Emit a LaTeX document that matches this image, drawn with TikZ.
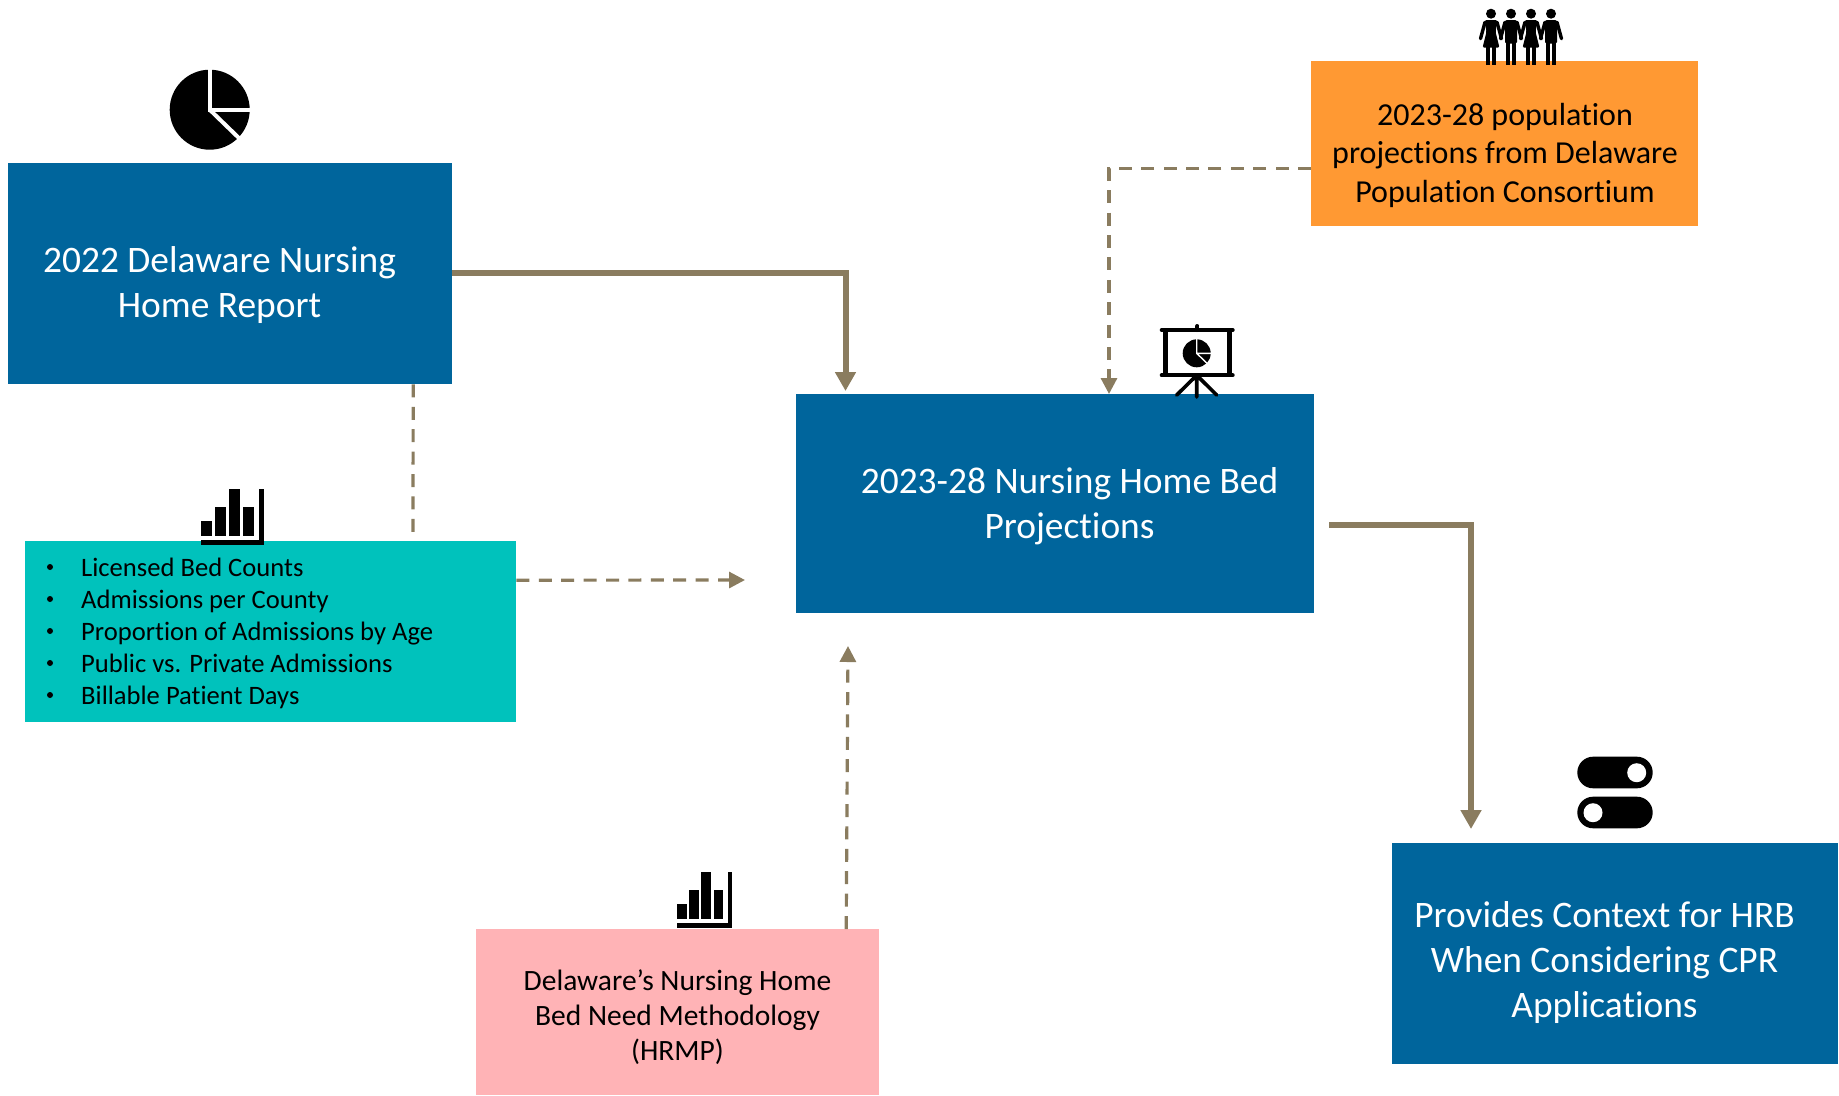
\documentclass[tikz,border=0pt]{standalone}
\usepackage{fontspec}
\setmainfont{Carlito}[Ligatures=NoCommon]
\usetikzlibrary{arrows.meta}
\definecolor{navy}{HTML}{00659C}
\definecolor{tealbox}{HTML}{00C2BC}
\definecolor{orangebox}{HTML}{FF9933}
\definecolor{pinkbox}{HTML}{FFB3B6}
\definecolor{conn}{HTML}{8A7C5F}
\tikzset{
  x=1pt,y=-1pt,
  panel/.style n args={3}{fill=#1,draw=none,inner sep=0pt,minimum width=#2,minimum height=#3,anchor=north west},
  big/.style={text=white,font=\fontsize{37.4}{45}\selectfont,align=center,inner sep=0pt},
  med/.style={text=black,font=\fontsize{32}{38.5}\selectfont,align=center,inner sep=0pt},
  small/.style={text=black,font=\fontsize{29.5}{35}\selectfont,align=center,inner sep=0pt},
  listy/.style={text=black,font=\fontsize{26.6}{32}\selectfont,anchor=base west,inner sep=0pt},
  solidarrow/.style={draw=conn,line width=6pt,-{Triangle[length=19pt,width=20pt]}},
  dashbase/.style={draw=conn,line width=3.2pt,dash pattern=on 13pt off 9.4pt},
  dasharrow/.style={dashbase,-{Triangle[length=16pt,width=16pt]}},
  pieicon/.pic={
    \fill (0,0) circle[radius=40];
    \draw[white,line width=4] (0,-44) -- (0,0) -- (44,0);
    \draw[white,line width=4] (0,0) -- (32,31);
  },
  barsicon/.pic={
    \fill (0,32) rectangle (11,47);
    \fill (14,18) rectangle (25,47);
    \fill (28,0) rectangle (39,47);
    \fill (42,18) rectangle (53,47);
    \fill (58,0) rectangle (63.3,56.3);
    \fill (0,51.3) rectangle (63.3,56.3);
  },
  womanicon/.pic={
    \fill (0,0) circle[radius=5];
    \fill[rounded corners=1.5] (-6.5,6.5) -- (6.5,6.5) -- (4.5,18) -- (8.5,34) -- (-8.5,34) -- (-4.5,18) -- cycle;
    \fill (-4.8,33) rectangle (-1.2,51);
    \fill (1.2,33) rectangle (4.8,51);
    \draw[line width=3.4,line cap=round] (-6,8.5) -- (-10.5,25) (6,8.5) -- (10.5,25);
  },
  manicon/.pic={
    \fill (0,0) circle[radius=5];
    \fill[rounded corners=1.5] (-6,6.5) rectangle (6,30);
    \fill (-5,28) rectangle (-1,51);
    \fill (1,28) rectangle (5,51);
    \draw[line width=3.4,line cap=round] (-6,8.5) -- (-10.5,25) (6,8.5) -- (10.5,25);
  },
  boardicon/.pic={
    \draw[line width=4,line cap=round] (-35,0) -- (36,0) (-35,45.3) -- (36,45.3) (0.7,-4) -- (0.7,0);
    \draw[line width=5] (-31.5,0) -- (-31.5,45.3) (33,0) -- (33,45.3);
    \draw[line width=3.6,line cap=round] (0,45.3) -- (0,67) (0,45.3) -- (-20,65) (0,45.3) -- (20,65);
    \fill (0,23.3) circle[radius=14];
    \draw[white,line width=1.4] (0,8) -- (0,23.3) -- (16,23.3) (0,23.3) -- (11.5,34.5);
  },
  toggleicon/.pic={
    \fill[rounded corners=15.8] (0,0) rectangle (75.4,31.6);
    \fill[rounded corners=15.8] (0,40) rectangle (75.4,71.6);
    \fill[white] (59.4,16) circle[radius=9.5];
    \fill[white] (15.7,56) circle[radius=9.5];
  },
}
\begin{document}
\begin{tikzpicture}
\useasboundingbox (0,0) rectangle (1839,1095);
% boxes
\node[panel={navy}{444pt}{221pt}] (report) at (8,163) {};
\node[panel={navy}{518pt}{219pt}] (centre) at (796,394) {};
\node[panel={orangebox}{387pt}{165pt}] (pop) at (1311,61) {};
\node[panel={tealbox}{491pt}{181pt}] (list) at (25,541) {};
\node[panel={pinkbox}{403pt}{166pt}] (need) at (476,929) {};
\node[panel={navy}{446pt}{221pt}] (hrb) at (1392,843) {};
% free ends of the connectors
\coordinate (centreT) at (845.5,391);
\coordinate (centreT2) at (1109,394);
\coordinate (centreL) at (745,580);
\coordinate (centreB) at (848,646);
\coordinate (centreR) at (1329,525);
\coordinate (listT) at (413,532);
\coordinate (hrbT) at (1471,829);
% connectors
\draw[solidarrow] ([yshift=1pt]report.east) -| (centreT);
\draw[solidarrow] (centreR) -| (hrbT);
\draw[dashbase] ([xshift=183pt]report.south) -- (listT);
\draw[dasharrow] ([yshift=51.5pt]list.east) -- (centreL);
\draw[dasharrow] ([yshift=-24.5pt]pop.west) -| (centreT2);
\draw[dasharrow] ([xshift=168.5pt]need.north) -- (centreB);
% text
\node[big] (reportt) at (219.5,285.5) {2022 Delaware Nursing\\Home Report};
\node[big] (centret) at (1069.5,506) {2023-28 Nursing Home Bed\\Projections};
\node[big] (hrbt) at (1604.5,963) {Provides Context for HRB\\When Considering CPR\\Applications};
\node[med] (popt) at (1505,155) {2023-28 population\\projections from Delaware\\Population Consortium};
\node[small] (needt) at (677.5,1017) {Delaware’s Nursing Home\\Bed Need Methodology\\(HRMP)};
\foreach \t/\y [count=\i] in {Licensed Bed Counts/568,Admissions per County/600,Proportion of Admissions by Age/632,Public vs. Private Admissions/664,Billable Patient Days/696}{
  \node[listy] (item\i) at (81,\y+8) {\t};
  \fill (50,\y-1) circle[radius=3];
}
% icons
\pic at (209.7,109.7) {pieicon};
\pic at (201,489) {barsicon};
\pic[xscale=0.874] at (677,872) {barsicon};
\pic at (1196.7,330) {boardicon};
\pic at (1577.3,756.7) {toggleicon};
\pic at (1491,13.7) {womanicon};
\pic at (1511,13.7) {manicon};
\pic at (1531,13.7) {womanicon};
\pic at (1551,13.7) {manicon};
\end{tikzpicture}
\end{document}
